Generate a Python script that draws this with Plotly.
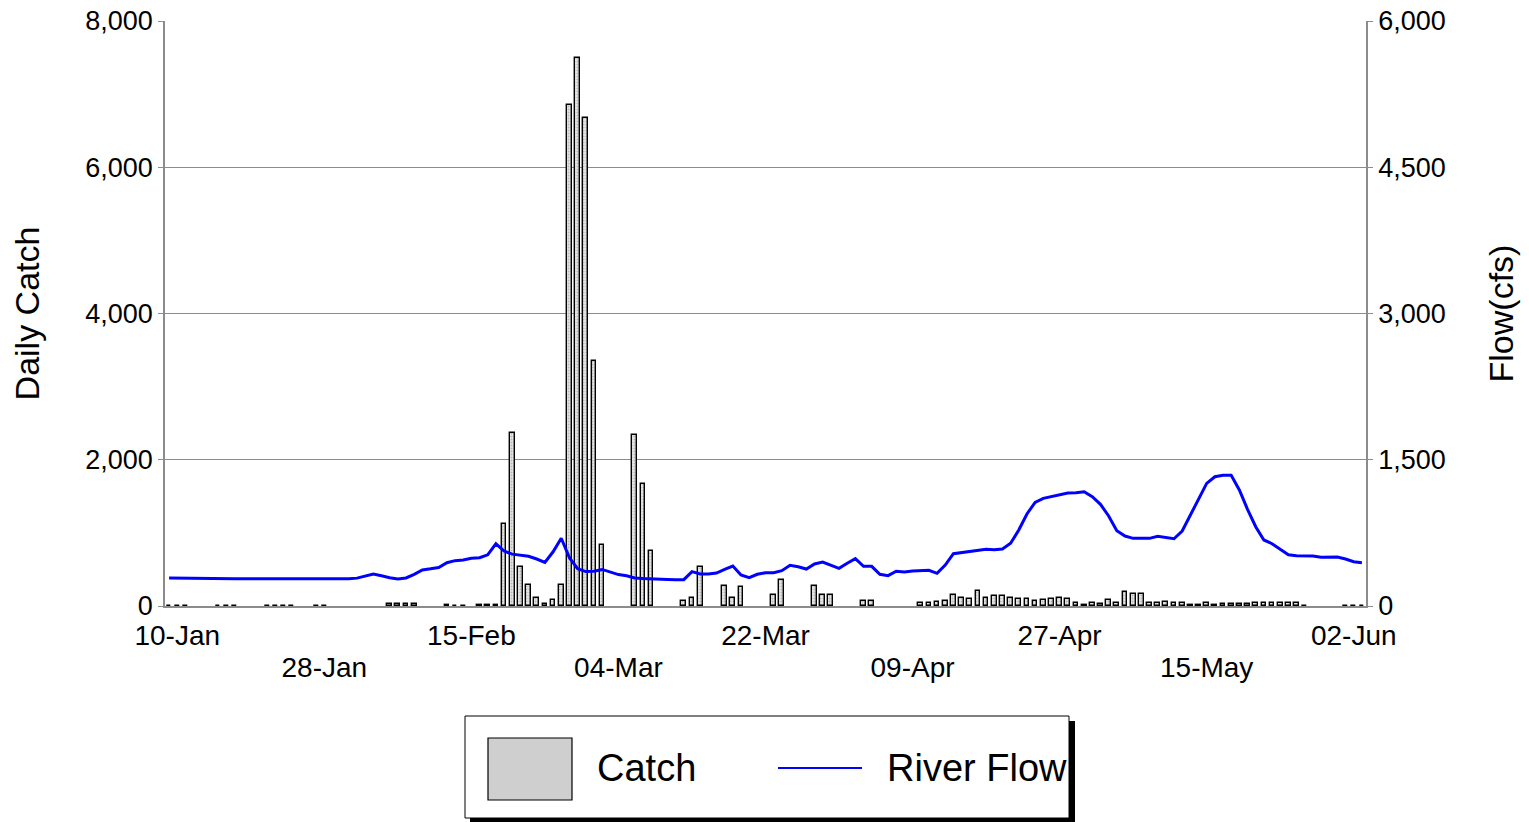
import pandas as pd
import plotly.graph_objects as go

# ---------------- data ----------------
start_date = "2024-01-09"   # first daily category (Jan 9 .. Jun 3)

# Daily catch (None = no sampling that day)
catch = [
    0, 0, 0, None, None, None, 0, 0, 0, None,            # Jan 9 - Jan 18
    None, None, 0, 0, 0, 0, None, None, 0, 0,            # Jan 19 - Jan 28
    None, None, None, None, None, None, None, 25, 25, 25,  # Jan 29 - Feb 7
    25, None, None, None, 20, 0, 0, None, 10, 10,        # Feb 8 - Feb 17
    20, 1120, 2360, 536, 294, 107, 30, 81, 294, 6846,    # Feb 18 - Feb 27
    7498, 6668, 3352, 840, None, None, None, 2341, 1674, 753,  # Feb 28 - Mar 8
    None, None, None, 73, 105, 538, None, None, 278, 105,  # Mar 9 - Mar 18
    255, None, None, None, 146, 355, None, None, None, 278,  # Mar 19 - Mar 28
    155, 155, None, None, None, 68, 68, None, None, None,  # Mar 29 - Apr 7
    None, None, 36, 46, 55, 68, 155, 114, 100, 205,      # Apr 8 - Apr 17
    109, 132, 132, 109, 100, 91, 68, 87, 91, 109,        # Apr 18 - Apr 27
    91, 46, 9, 46, 23, 77, 46, 191, 164, 164,            # Apr 28 - May 7
    46, 46, 55, 36, 36, 9, 9, 36, 9, 27,                 # May 8 - May 17
    27, 27, 27, 36, 36, 46, 46, 46, 36, 5,               # May 18 - May 27
    None, None, None, None, 0, 0, 0,                     # May 28 - Jun 3
]

# Daily river flow (cfs)
flow = [
    287, 285, 283, 281, 280, 279, 279, 279, 279, 279,
    279, 279, 279, 278, 278, 277, 277, 278, 281, 279,
    278, 278, 279, 286, 305, 328, 311, 290, 277, 288,
    325, 369, 381, 395, 444, 465, 471, 490, 495, 525,
    638, 564, 532, 522, 510, 482, 448, 556, 695, 496,
    383, 353, 357, 375, 345, 322, 311, 288, 282, 277,
    274, 272, 270, 270, 352, 328, 328, 338, 376, 410,
    318, 290, 325, 342, 342, 362, 417, 403, 379, 431,
    451, 417, 386, 438, 485, 407, 407, 325, 311, 356,
    350, 359, 360, 366, 335, 420, 537, 547, 554, 567,
    581, 578, 585, 643, 779, 944, 1063, 1104, 1121, 1142,
    1159, 1162, 1172, 1121, 1043, 923, 772, 718, 694, 694,
    694, 715, 701, 690, 769, 933, 1094, 1258, 1326, 1340,
    1340, 1190, 992, 813, 677, 639, 581, 526, 516, 513,
    513, 499, 499, 503, 482, 454, 444,
]

# tick labels: upper row and lower row (alternating every 18 days)
row1_dates = ["2024-01-10", "2024-02-15", "2024-03-22", "2024-04-27", "2024-06-02"]
row1_labels = ["10-Jan", "15-Feb", "22-Mar", "27-Apr", "02-Jun"]
row2_dates = ["2024-01-28", "2024-03-04", "2024-04-09", "2024-05-15"]
row2_labels = ["28-Jan", "04-Mar", "09-Apr", "15-May"]

dates = pd.date_range(start_date, periods=len(flow), freq="D")

FONT = "Liberation Sans, Arial, sans-serif"
GRID = "#8c8c8c"
XRANGE = ["2024-01-08 12:00", "2024-06-03 12:00"]

fig = go.Figure()

fig.add_trace(go.Bar(
    x=dates, y=catch, name="Catch", xaxis="x", yaxis="y",
    width=0.58 * 86400000,
    marker=dict(
        color="#d4d4d4",
        line=dict(color="black", width=1.4),
        pattern=dict(shape=".", fgcolor="#8a8a8a", bgcolor="#e6e6e6", size=3, solidity=0.35),
    ),
    showlegend=False,
))

fig.add_trace(go.Scatter(
    x=dates, y=flow, name="River Flow", xaxis="x2", yaxis="y2", mode="lines",
    line=dict(color="#0000ff", width=3),
    showlegend=False,
))

fig.update_layout(
    width=1529, height=822,
    margin=dict(l=165, r=163, t=21, b=216, autoexpand=False),
    paper_bgcolor="white", plot_bgcolor="white",
    font=dict(family=FONT, color="black", size=27),
    bargap=0,
    xaxis=dict(
        type="date", range=XRANGE, automargin=False,
        tickvals=row1_dates, ticktext=row1_labels,
        tickangle=0, ticklabelstandoff=4,
        showgrid=False, zeroline=False,
        showline=True, linecolor=GRID, linewidth=1.5,
        ticks="", tickfont=dict(size=28),
    ),
    xaxis2=dict(
        type="date", range=XRANGE, automargin=False,
        overlaying="x", side="bottom", anchor="y",
        tickvals=row2_dates, ticktext=row2_labels,
        tickangle=0, ticklabelstandoff=42,
        showgrid=False, zeroline=False, showline=False,
        ticks="", tickfont=dict(size=28),
    ),
    yaxis=dict(
        range=[0, 8000], dtick=2000, tickformat=",", automargin=False,
        showgrid=True, gridcolor=GRID, gridwidth=1,
        zeroline=False,
        showline=True, linecolor=GRID, linewidth=1.5,
        ticks="outside", ticklen=5, tickcolor=GRID,
        tickfont=dict(size=27),
        title=dict(text="Daily Catch", font=dict(size=34), standoff=35),
    ),
    yaxis2=dict(
        range=[0, 6000], dtick=1500, tickformat=",", automargin=False,
        overlaying="y", side="right",
        showgrid=False, zeroline=False,
        showline=True, linecolor=GRID, linewidth=1.5,
        ticks="outside", ticklen=5, tickcolor=GRID,
        tickfont=dict(size=27),
        title=dict(text="Flow(cfs)", font=dict(size=34), standoff=44),
    ),
)

# ---- hand-drawn legend box (paper coordinates) ----
def px_x(px):
    return (px - 165) / 1201.0

def px_y(py):
    return (606 - py) / 585.0

shapes = [
    # shadow
    dict(type="rect", xref="paper", yref="paper",
         x0=px_x(470), x1=px_x(1075), y0=px_y(823), y1=px_y(721),
         fillcolor="black", line=dict(width=0)),
    # box
    dict(type="rect", xref="paper", yref="paper",
         x0=px_x(465), x1=px_x(1069), y0=px_y(818), y1=px_y(716),
         fillcolor="white", line=dict(color="black", width=1)),
    # catch swatch
    dict(type="rect", xref="paper", yref="paper",
         x0=px_x(488), x1=px_x(572), y0=px_y(800), y1=px_y(738),
         fillcolor="#cfcfcf", line=dict(color="black", width=1.2)),
    # flow line sample
    dict(type="line", xref="paper", yref="paper",
         x0=px_x(778), x1=px_x(862), y0=px_y(768), y1=px_y(768),
         line=dict(color="#0000ff", width=2)),
]
fig.update_layout(shapes=shapes)

fig.add_annotation(text="Catch", xref="paper", yref="paper",
                   x=px_x(595), y=px_y(768), xanchor="left", yanchor="middle",
                   showarrow=False, font=dict(size=38, family=FONT, color="black"))
fig.add_annotation(text="River Flow", xref="paper", yref="paper",
                   x=px_x(885), y=px_y(768), xanchor="left", yanchor="middle",
                   showarrow=False, font=dict(size=38, family=FONT, color="black"))

fig.write_html("out.html")
